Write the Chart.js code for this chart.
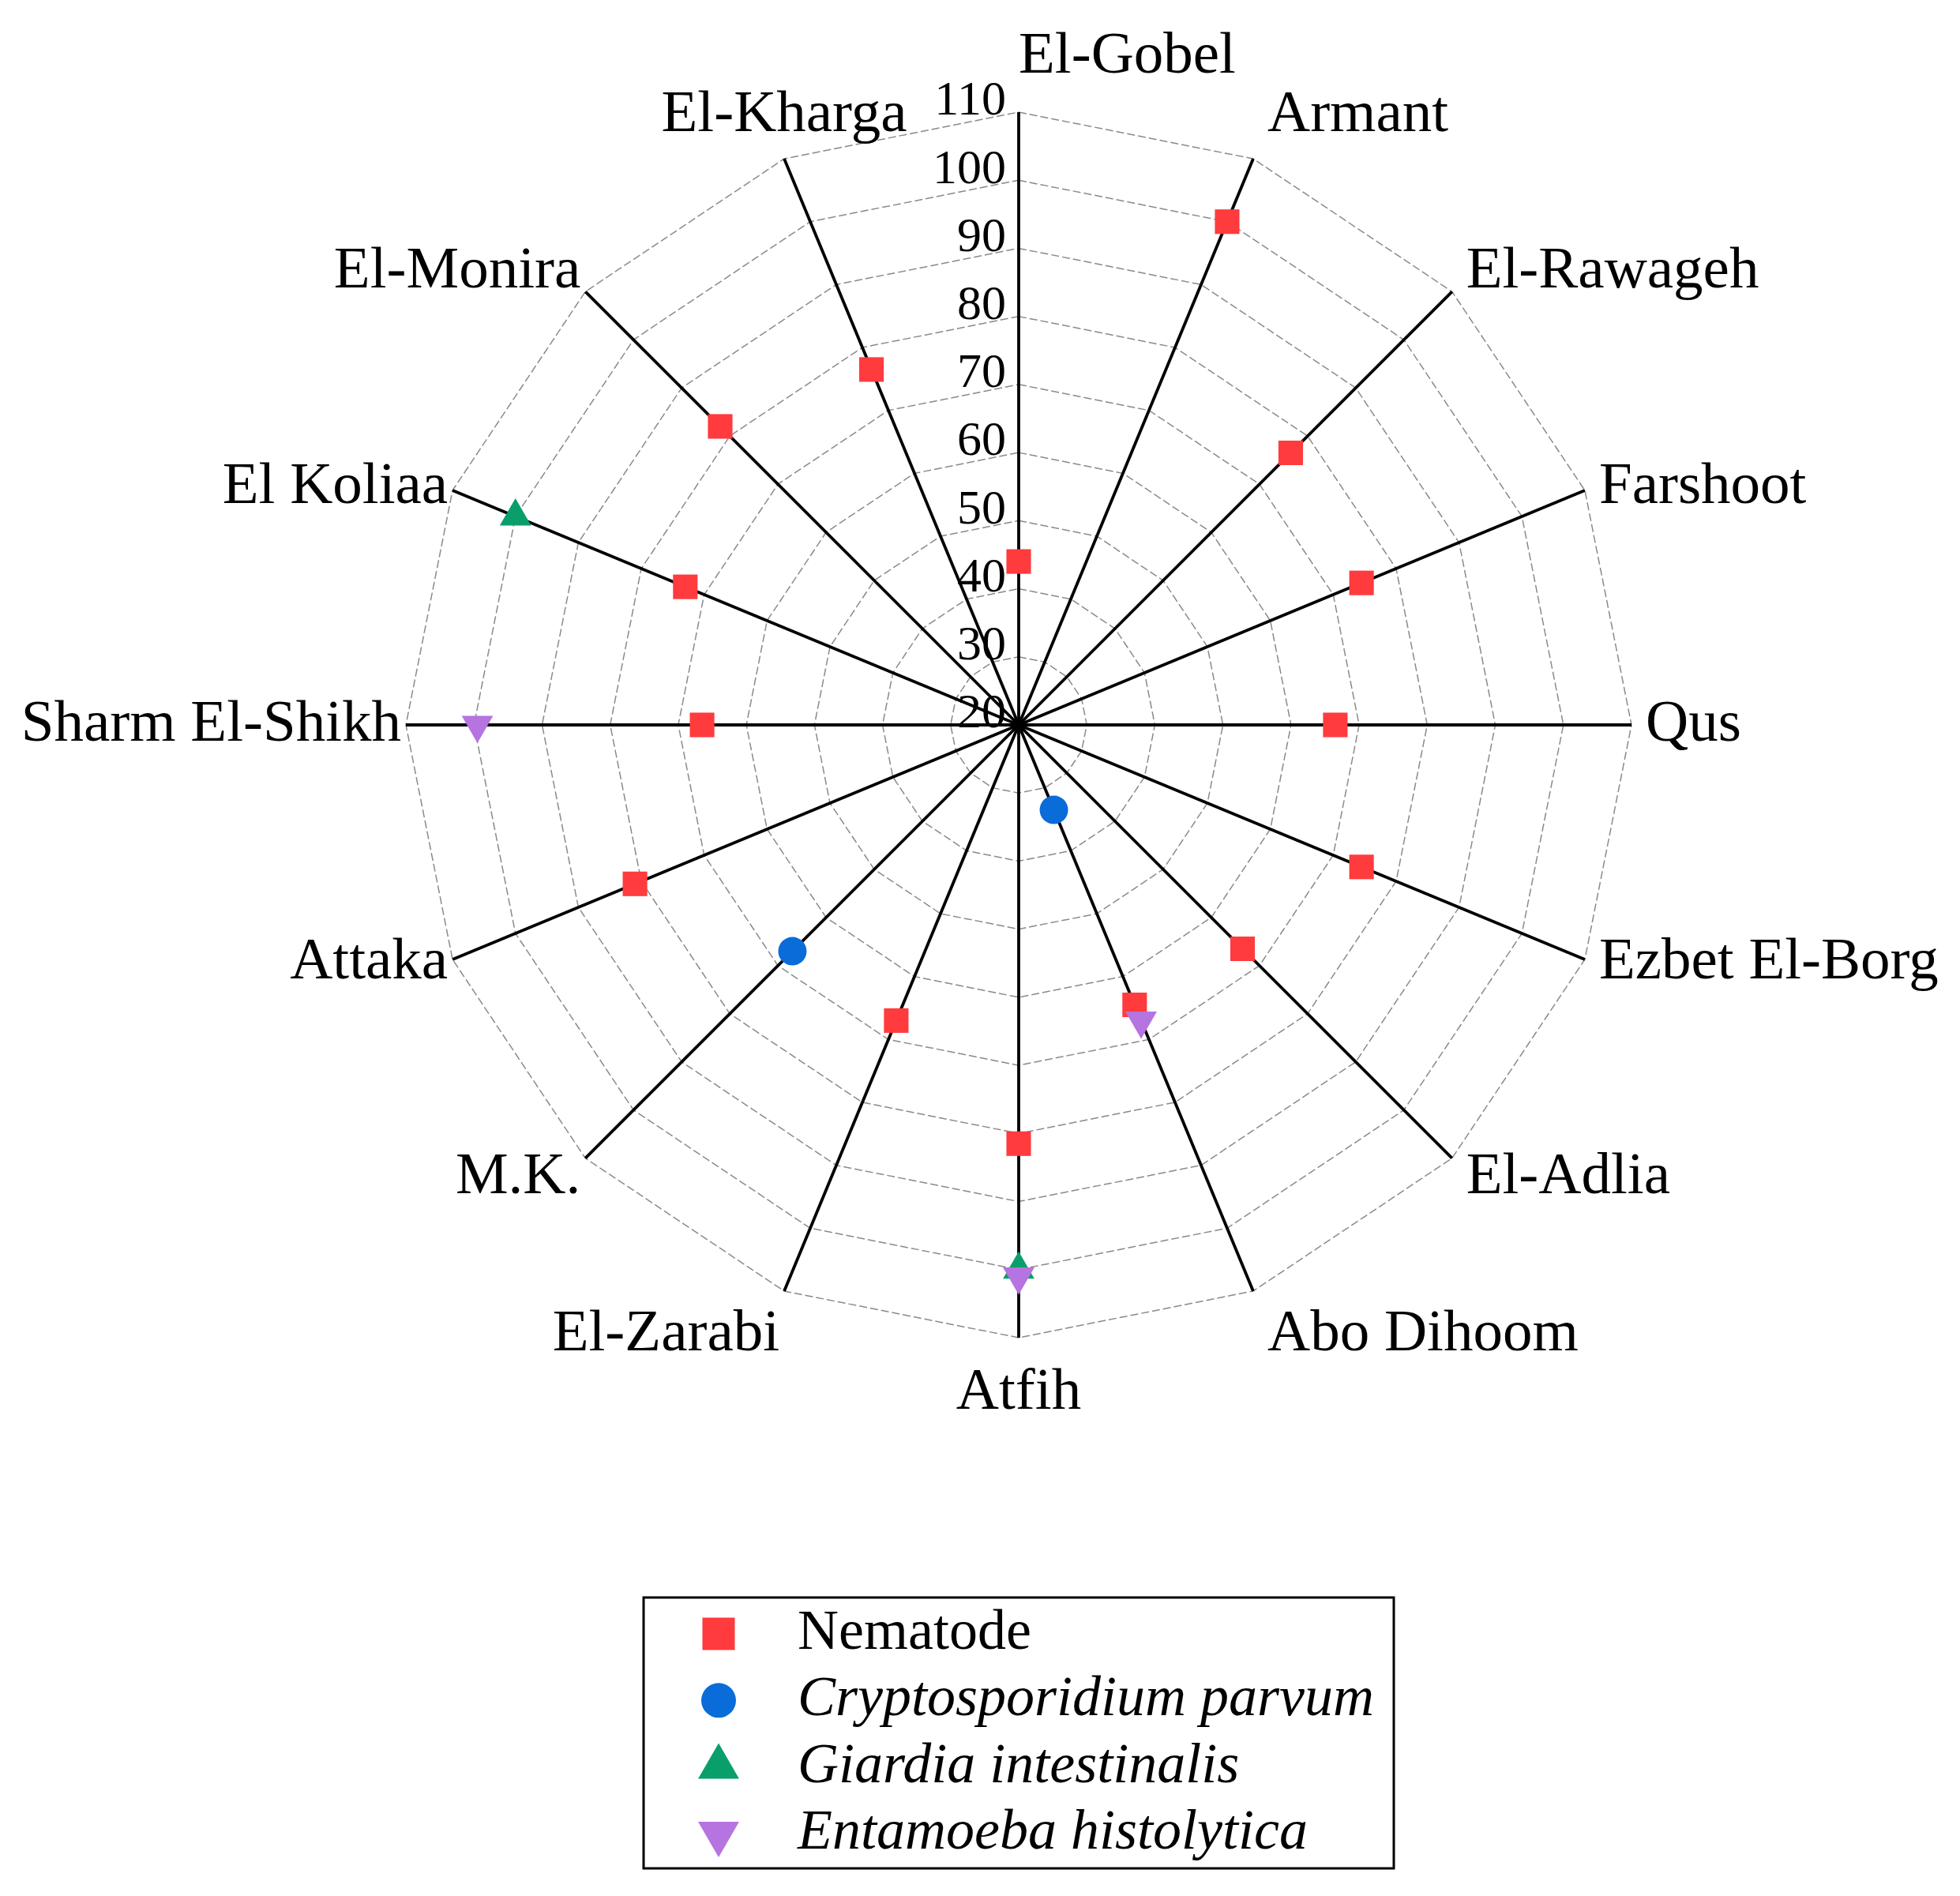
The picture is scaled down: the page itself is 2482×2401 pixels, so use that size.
<!DOCTYPE html>
<html>
<head>
<meta charset="utf-8">
<script src="https://cdn.jsdelivr.net/npm/chart.js@4.4.1/dist/chart.umd.min.js"></script>
<style>
  html, body { margin: 0; padding: 0; background: #fff; }
  .wrap { width: 2482px; height: 2401px; position: relative; }
</style>
</head>
<body>
<div class="wrap"><canvas id="radar"></canvas></div>
<script>
// sampling sites, clockwise from the top
const sites = ['El-Gobel', 'Armant', 'El-Rawageh', 'Farshoot', 'Qus', 'Ezbet El-Borg', 'El-Adlia', 'Abo Dihoom',
  'Atfih', 'El-Zarabi', 'M.K.', 'Attaka', 'Sharm El-Shikh', 'El Koliaa', 'El-Monira', 'El-Kharga'];

const nematode     = [44, 100, 76.5, 74.5, 66.5, 74.5, 66.5, 64.5, 81.5, 67, null, 81, 66.5, 73, 82, 76.5];
const cryptospor   = [null, null, null, null, null, null, null, 33.5, null, null, 67, null, null, null, null, null];
const giardia      = [null, null, null, null, null, null, null, null, 100, null, null, null, null, 100, null, null];
const entamoeba    = [null, null, null, null, null, null, null, 67, 101, null, null, null, 99.5, null, null, null];

const tickValues = [20, 30, 40, 50, 60, 70, 80, 90, 100, 110];

const serif = "'Liberation Serif', 'Times New Roman', serif";

// site names + tick numbers, drawn off the radial scale
const scaleText = {
  id: 'scaleText',
  afterDraw(chart) {
    const s = chart.scales.r;
    const ctx = chart.ctx;
    ctx.save();
    ctx.fillStyle = '#000';
    ctx.textBaseline = 'middle';
    ctx.font = '75px ' + serif;
    sites.forEach((name, i) => {
      const v = s.getPointPosition(i, s.drawingArea);
      const a = s.getIndexAngle(i);
      const sin = Math.sin(a), cos = Math.cos(a);
      let x = v.x, align;
      if (Math.abs(sin) < 1e-6) {
        align = cos > 0 ? 'left' : 'center';
      } else if (sin > 0) {
        align = 'left'; x += 18;
      } else if (sin > -0.5 && cos > 0) {
        // top-left name sits centred over its spoke
        align = 'center';
      } else {
        align = 'right'; x -= 6;
      }
      ctx.textAlign = align;
      ctx.fillText(name, x, v.y - 70 * cos * cos * cos);
    });

    ctx.font = '62px ' + serif;
    ctx.textAlign = 'right';
    tickValues.forEach(t => {
      const p = s.getPointPositionForValue(0, t);
      ctx.fillText(String(t), s.xCenter - 16, p.y - 13);
    });
    ctx.restore();
  }
};

const legendSizes = [29, 22, 30, 30];

const legendBox = {
  id: 'legendBox',
  afterDraw(chart) {
    const ctx = chart.ctx;
    const bx = 815, by = 2023, bw = 950, bh = 343;
    ctx.save();
    ctx.strokeStyle = '#000';
    ctx.lineWidth = 3;
    ctx.strokeRect(bx, by, bw, bh);
    ctx.textBaseline = 'middle';
    ctx.textAlign = 'left';
    chart.data.datasets.forEach((ds, i) => {
      const cy = by + 46 + i * 84.3;
      ctx.fillStyle = ds.backgroundColor;
      Chart.helpers.drawPoint(ctx, {
        pointStyle: ds.pointStyle,
        radius: legendSizes[i],
        rotation: ds.pointRotation || 0,
        borderWidth: 0
      }, 910, cy);
      ctx.fillStyle = '#000';
      ctx.font = (i === 0 ? '' : 'italic ') + '72px ' + serif;
      ctx.fillText(ds.label, 1010, cy);
    });
    ctx.restore();
  }
};

function series(label, data, color, style, radius, order, rotation) {
  return {
    label: label,
    data: data,
    showLine: false,
    fill: false,
    backgroundColor: color,
    borderColor: color,
    borderWidth: 0,
    pointStyle: style,
    pointRadius: radius,
    pointRotation: rotation || 0,
    pointBackgroundColor: color,
    pointBorderWidth: 0,
    order: order
  };
}

new Chart(document.getElementById('radar'), {
  type: 'radar',
  data: {
    labels: sites,
    datasets: [
      series('Nematode', nematode, '#ff3b3e', 'rect', 22, 4),
      series('Cryptosporidium parvum', cryptospor, '#0a6cd8', 'circle', 18, 3),
      series('Giardia intestinalis', giardia, '#0a9f6a', 'triangle', 23, 2),
      series('Entamoeba histolytica', entamoeba, '#b574e0', 'triangle', 23, 1, 180)
    ]
  },
  options: {
    responsive: true,
    maintainAspectRatio: false,
    animation: false,
    events: [],
    layout: { padding: { left: 514, right: 416, top: 142, bottom: 707 } },
    plugins: {
      legend: { display: false },
      tooltip: { enabled: false },
      filler: { propagate: false }
    },
    elements: { line: { fill: false, borderWidth: 0 } },
    scales: {
      r: {
        min: tickValues[0],
        max: tickValues[tickValues.length - 1],
        ticks: { display: false, stepSize: tickValues[1] - tickValues[0] },
        pointLabels: { display: false },
        angleLines: { color: '#000', lineWidth: 3.8 },
        grid: { color: '#8a8a8a', lineWidth: 1.5 },
        border: { dash: [10, 4] }
      }
    }
  },
  plugins: [scaleText, legendBox]
});
</script>
</body>
</html>
